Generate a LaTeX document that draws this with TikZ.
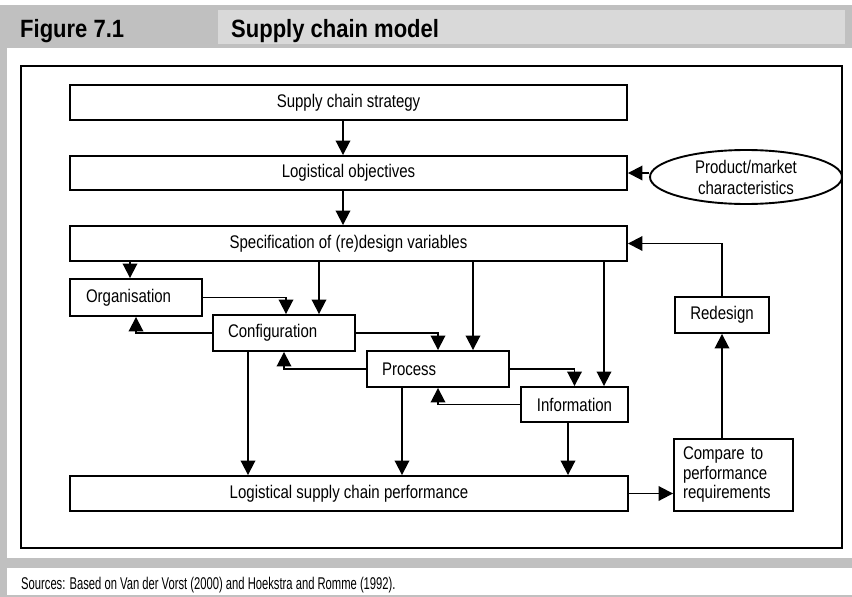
\documentclass[tikz,border=0pt]{standalone}
\usepackage{fontspec}
\setmainfont{Liberation Sans}
\newfontfamily\diagfont[FakeStretch=0.82]{Liberation Sans}
\newfontfamily\headfont[FakeStretch=0.88]{Liberation Sans}
\newfontfamily\srcfont[FakeStretch=0.66]{Liberation Sans}
\usetikzlibrary{arrows.meta,shapes.geometric}
\definecolor{framegray}{HTML}{C0C0C0}
\definecolor{bandgray}{HTML}{D9D9D9}
\begin{document}
\begin{tikzpicture}[x=1pt,y=-1pt,
  box/.style={draw,line width=1.9pt,rectangle,inner ysep=0pt,inner xsep=0pt,
    font=\diagfont\fontsize{18.3}{19.5}\selectfont},
  lbox/.style={box,align=left},
  ell/.style={draw,line width=1.9pt,ellipse,inner sep=0pt,align=center,
    font=\diagfont\fontsize{18.3}{21}\selectfont},
  arr/.style={line width=1.9pt,-{Triangle[length=14.5pt,width=14.5pt]}},
  headtxt/.style={anchor=base west,inner sep=0pt,font=\headfont\bfseries\fontsize{25}{26}\selectfont},
  srctxt/.style={anchor=base west,inner sep=0pt,font=\srcfont\fontsize{17}{18}\selectfont}]
\useasboundingbox (0,0) rectangle (852,597);
% background panels
\fill[white] (0,0) rectangle (852,597);
\fill[framegray] (0,5) rectangle (852,597);
\fill[white] (7,48) rectangle (852,558);
\fill[white] (7,568) rectangle (852,595);
\fill[bandgray] (218,10) rectangle (845,44);
\node[headtxt] (fig) at (20,37) {Figure 7.1};
\node[headtxt] (title) at (231,37) {Supply chain model};
\node[srctxt] (src) at (21,589) {Sources: Based on Van der Vorst (2000) and Hoekstra and Romme (1992).};
% frame
\draw[line width=2.6pt] (21,66) rectangle (842,548);
% boxes
\node[box,minimum width=557pt,minimum height=35pt] (strat) at (348.5,102.5) {Supply chain strategy};
\node[box,minimum width=557pt,minimum height=34pt] (obj) at (348.5,173) {Logistical objectives};
\node[box,minimum width=557pt,minimum height=35pt] (spec) at (348.5,243.5) {Specification of (re)design variables};
\node[ell,minimum width=192pt,minimum height=54pt] (mkt) at (746,177) {Product/market\\characteristics};
\node[lbox,text width=100pt,inner xsep=16pt,minimum height=37pt] (org) at (136,297.5) {Organisation};
\node[lbox,text width=112pt,inner xsep=15pt,minimum height=36pt] (conf) at (284,333) {Configuration};
\node[lbox,text width=112pt,inner xsep=15pt,minimum height=36pt] (proc) at (438,369) {Process};
\node[box,minimum width=107pt,minimum height=35pt] (info) at (574.5,404.5) {Information};
\node[box,minimum width=558pt,minimum height=35pt] (lscp) at (349,493.5) {Logistical supply chain performance};
\node[box,minimum width=94pt,minimum height=36pt] (red) at (722,315) {Redesign};
\node[lbox,text width=101pt,inner xsep=9pt,minimum height=72pt] (cmp) at (733.5,475) {Compare to\\performance\\requirements};
% connectors
\draw[arr] ([xshift=-5.5pt]strat.south) -- ([xshift=-5.5pt]obj.north);
\draw[arr] ([xshift=-5.5pt]obj.south) -- ([xshift=-5.5pt]spec.north);
\draw[arr] (mkt.west |- obj.east) -- (obj.east);
\draw[arr] (red.north) |- (spec.east);
\draw[arr] (cmp.north -| red.south) -- (red.south);
\draw[arr] (lscp.east) -- (lscp.east -| cmp.west);
\draw[arr] ([xshift=-6pt]org.north |- spec.south) -- ([xshift=-6pt]org.north);
\draw[arr] ([xshift=35pt]conf.north |- spec.south) -- ([xshift=35pt]conf.north);
\draw[arr] ([xshift=35pt]proc.north |- spec.south) -- ([xshift=35pt]proc.north);
\draw[arr] ([xshift=29.5pt]info.north |- spec.south) -- ([xshift=29.5pt]info.north);
\draw[arr] (org.east) -| ([xshift=2pt]conf.north);
\draw[arr] (conf.west) -| (org.south);
\draw[arr] (conf.east) -| (proc.north);
\draw[arr] (proc.west) -| (conf.south);
\draw[arr] (proc.east) -| (info.north);
\draw[arr] (info.west) -| (proc.south);
\draw[arr] ([xshift=-36pt]conf.south) -- ([xshift=-36pt]conf.south |- lscp.north);
\draw[arr] ([xshift=-36pt]proc.south) -- ([xshift=-36pt]proc.south |- lscp.north);
\draw[arr] ([xshift=-6.5pt]info.south) -- ([xshift=-6.5pt]info.south |- lscp.north);
\end{tikzpicture}
\end{document}
